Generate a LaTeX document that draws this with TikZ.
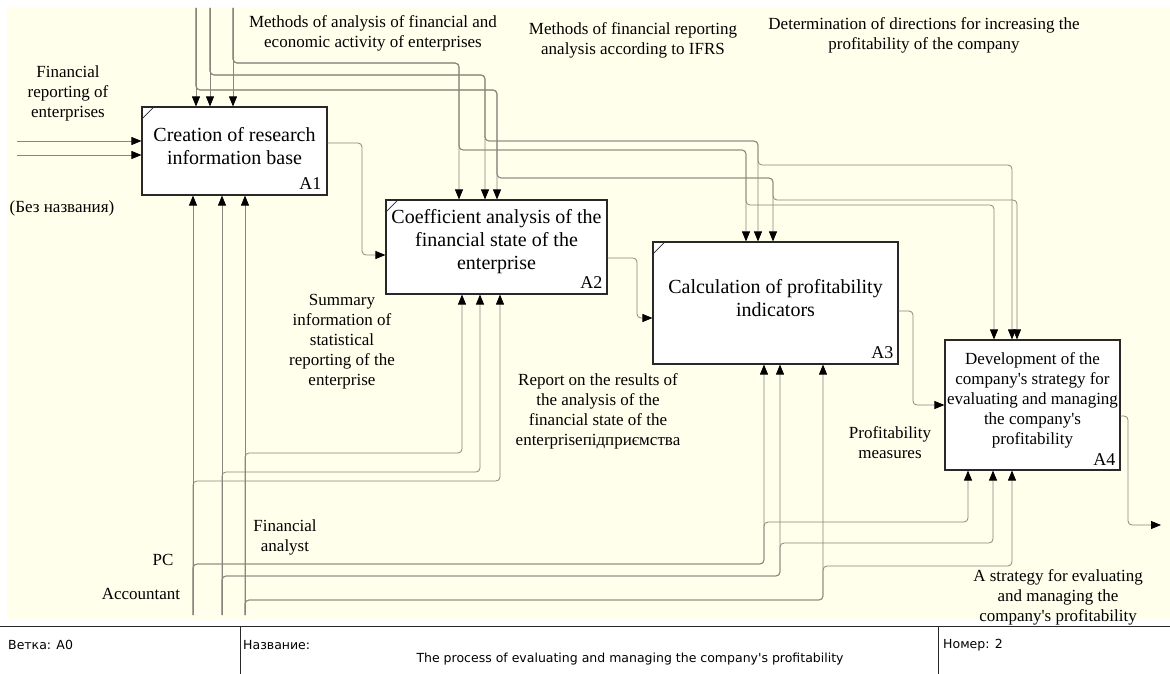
\documentclass[tikz,border=0pt]{standalone}
\usepackage{fontspec}
\newfontfamily\tnr{Liberation Serif}
\newfontfamily\footfont{DejaVu Sans}
\usetikzlibrary{arrows.meta,calc}
\definecolor{paper}{RGB}{255,255,236}
\definecolor{wire}{RGB}{135,135,125}
\definecolor{frame}{RGB}{40,40,40}

\begin{document}
\begin{tikzpicture}[x=1pt,y=-1pt,
  conn/.style={draw=wire,line width=0.8pt,rounded corners=4pt,
    -{Triangle[length=10pt,width=8pt,color=black]}},
  fbox/.style={draw=frame,fill=white,line width=1.1pt,inner sep=0pt},
  tick/.style={draw=frame,line width=0.8pt},
  ttl/.style={align=center,font=\tnr\fontsize{20}{23}\selectfont,inner sep=0pt},
  lbl/.style={align=center,font=\tnr\fontsize{17}{20}\selectfont,inner sep=0pt},
  num/.style={font=\tnr\fontsize{18}{20}\selectfont,inner sep=0pt,anchor=south east},
  ftxt/.style={font=\footfont\fontsize{12.5}{15}\selectfont,inner sep=0pt},
  rule/.style={draw=frame,line width=1pt}
]
% sheet and drawing area
\fill[white] (0,0) rectangle (1170,674);
\fill[paper] (7,7) rectangle (1170,620);
\useasboundingbox (0,0) rectangle (1170,674);

% activity boxes
\node[fbox,minimum width=185pt,minimum height=88pt] (A1) at (234.5,151) {};
\node[fbox,minimum width=221pt,minimum height=94pt] (A2) at (496.5,247) {};
\node[fbox,minimum width=245pt,minimum height=122pt] (A3) at (775.5,303) {};
\node[fbox,minimum width=175pt,minimum height=130pt] (A4) at (1032.5,405) {};

% free ends of the boundary arrows
\coordinate (c1) at (196,8);
\coordinate (c2) at (210,8);
\coordinate (c3) at (233,8);
\coordinate (m1) at (193,615);
\coordinate (m2) at (222,615);
\coordinate (m3) at (245,615);
\coordinate (i1) at (17,141);
\coordinate (i2) at (17,155);
\coordinate (out) at (1161,525);

% controls
\draw[conn] (c1) -- (A1.north -| c1);
\draw[conn] (c1) |- (497,90) -- (A2.north -| 497,0);
\draw[conn] (c1) |- (497,90) |- (773,178) -- (A3.north -| 773,0);
\draw[conn] (c1) |- (497,90) |- (773,178) |- (1017,200) -- (A4.north -| 1017,0);
\draw[conn] (c2) -- (A1.north -| c2);
\draw[conn] (c2) |- (485,75) -- (A2.north -| 485,0);
\draw[conn] (c2) |- (485,75) |- (758,141) -- (A3.north -| 758,0);
\draw[conn] (c2) |- (485,75) |- (758,141) |- (1012,165) -- (A4.north -| 1012,0);
\draw[conn] (c3) -- (A1.north -| c3);
\draw[conn] (c3) |- (459,63) -- (A2.north -| 459,0);
\draw[conn] (c3) |- (459,63) |- (746,150) -- (A3.north -| 746,0);
\draw[conn] (c3) |- (459,63) |- (746,150) |- (994,205) -- (A4.north -| 994,0);

% mechanisms
\draw[conn] (m1) -- (A1.south -| m1);
\draw[conn] (m1) |- (500,481) -- (A2.south -| 500,0);
\draw[conn] (m1) |- (764,564) -- (A3.south -| 764,0);
\draw[conn] (m1) |- (764,564) |- (968,522) -- (A4.south -| 968,0);
\draw[conn] (m2) -- (A1.south -| m2);
\draw[conn] (m2) |- (480,472) -- (A2.south -| 480,0);
\draw[conn] (m2) |- (780,576) -- (A3.south -| 780,0);
\draw[conn] (m2) |- (780,576) |- (993,543) -- (A4.south -| 993,0);
\draw[conn] (m3) -- (A1.south -| m3);
\draw[conn] (m3) |- (462,453) -- (A2.south -| 462,0);
\draw[conn] (m3) |- (823,600) -- (A3.south -| 823,0);
\draw[conn] (m3) |- (823,600) |- (1012,566) -- (A4.south -| 1012,0);

% inputs
\draw[conn] (i1) -- (A1.west |- i1);
\draw[conn] (i2) -- (A1.west |- i2);

% outputs
\draw[conn] (A1.east |- 0,143) -- (362,143) -- (362,255) -- (A2.west |- 0,255);
\draw[conn] (A2.east |- 0,258) -- (637,258) -- (637,318) -- (A3.west |- 0,318);
\draw[conn] (A3.east |- 0,311) -- (913,311) -- (913,405) -- (A4.west |- 0,405);
\draw[conn] (A4.east |- 0,416) -- (1128,416) |- (out);

% box corner ticks
\foreach \b in {A1,A2,A3}
  \draw[tick] ($(\b.north west)+(0,13)$) -- ($(\b.north west)+(13,0)$);

% box titles and numbers
\node[ttl] (A1t) at (234.5,146) {Creation of research\\information base};
\node[ttl] (A2t) at (496.5,242) {Coefficient analysis of the\\financial state of the\\enterprise};
\node[ttl] (A3t) at (775.5,298.5) {Calculation of profitability\\indicators};
\node[lbl] (A4t) at (1032.5,400.5) {Development of the\\company's strategy for\\evaluating and managing\\the company's\\profitability};
\node[num] (A1n) at ($(A1.south east)+(-6,-6)$) {A1};
\node[num] (A2n) at ($(A2.south east)+(-5,-6)$) {A2};
\node[num] (A3n) at ($(A3.south east)+(-5,-6)$) {A3};
\node[num] (A4n) at ($(A4.south east)+(-5,-5)$) {A4};

% arrow labels
\node[lbl] (Lc1) at (373,33.5) {Methods of analysis of financial and\\economic activity of enterprises};
\node[lbl] (Lc2) at (633,40.5) {Methods of financial reporting\\analysis according to IFRS};
\node[lbl] (Lc3) at (924,35) {Determination of directions for increasing the\\profitability of the company};
\node[lbl] (Li1) at (68,93) {Financial\\reporting of\\enterprises};
\node[lbl] (Li2) at (62,208) {(Без названия)};
\node[lbl] (Lo1) at (342,342) {Summary\\information of\\statistical\\reporting of the\\enterprise};
\node[lbl] (Lo2) at (598,411.5) {Report on the results of\\the analysis of the\\financial state of the\\enterpriseпідприємства};
\node[lbl] (Lo3) at (890,443) {Profitability\\measures};
\node[lbl] (Lo4) at (1058,597) {A strategy for evaluating\\and managing the\\company's profitability};
\node[lbl] (Lm1) at (163,560) {PC};
\node[lbl] (Lm2) at (141,594) {Accountant};
\node[lbl] (Lm3) at (285,537.5) {Financial\\analyst};

% title block
\draw[rule] (0,626) -- (1170,626);
\draw[rule] (240,626) -- (240,674);
\draw[rule] (938,626) -- (938,674);
\node[ftxt,anchor=west] (F1) at (8,645) {Ветка: A0};
\node[ftxt,anchor=west] (F2) at (243,645) {Название:};
\node[ftxt] (F3) at (630,659) {The process of evaluating and managing the company's profitability};
\node[ftxt,anchor=west] (F4) at (943,645) {Номер: 2};
\end{tikzpicture}
\end{document}
